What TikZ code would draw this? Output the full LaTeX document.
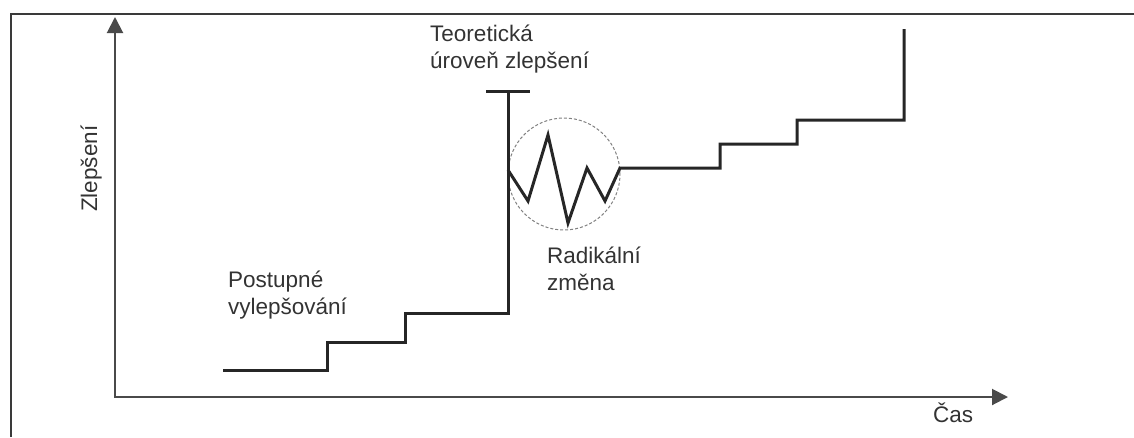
\documentclass[tikz,border=0pt]{standalone}
\usepackage{fontspec}
\setmainfont{Liberation Sans}
\usetikzlibrary{arrows.meta}
\definecolor{txt}{HTML}{333333}
\definecolor{axisgray}{HTML}{4A4A4A}
\definecolor{framegray}{HTML}{3A3A3A}
\begin{document}
\begin{tikzpicture}[x=1pt,y=-1pt,
  lbl/.style={font=\fontsize{22.5}{27}\selectfont, text=txt, inner sep=0pt, align=left, anchor=base west},
  axis/.style={draw=axisgray, line width=2pt, {Triangle[length=16pt,width=16pt]}-{Triangle[length=16pt,width=16pt]}},
  curve/.style={draw=black!85, line width=3pt, line join=miter},
  frameline/.style={draw=framegray, line width=1.8pt},
  ring/.style={circle, draw=gray, densely dashed, line width=1pt, minimum size=112pt, inner sep=0pt}]
\useasboundingbox (0,0) rectangle (1134,437);
% frame
\coordinate (fb) at (11,437);
\coordinate (fc) at (11,14);
\coordinate (fr) at (1134,14);
\draw[frameline] (fb) -- (fc) -- (fr);
% axes
\coordinate (O) at (115,397);
\coordinate (ytip) at (115,17);
\coordinate (xtip) at (1008,397);
\draw[axis] (ytip) -- (O) -- (xtip);
% circle
\node[ring] (ring) at (564,174) {};
% staircase
\coordinate (s0) at (223,370);
\coordinate (s1) at (327,342);
\coordinate (s2) at (405,313);
\coordinate (top) at (508,91);
\draw[curve] (s0) -| (s1) -| (s2) -| (top);
\coordinate (tl) at (486,91);
\coordinate (tr) at (530,91);
\draw[curve] (tl) -- (tr);
% zigzag and upper steps
\coordinate (z0) at (508,170);
\coordinate (z1) at (528,201);
\coordinate (z2) at (548,135);
\coordinate (z3) at (568,223);
\coordinate (z4) at (587,168);
\coordinate (z5) at (605,201);
\coordinate (z6) at (620,168);
\coordinate (u1) at (720,144);
\coordinate (u2) at (797,120);
\coordinate (u3) at (904,29);
\draw[curve] (z0) -- (z1) -- (z2) -- (z3) -- (z4) -- (z5) -- (z6) -| (u1) -| (u2) -| (u3);
% labels (base = baseline of the last line)
\node[lbl] (teor) at (430,68) {Teoretická\\úroveň zlepšení};
\node[lbl] (post) at (228,314) {Postupné\\vylepšování};
\node[lbl] (rad) at (547,290) {Radikální\\změna};
\node[lbl] (cas) at (933,422) {Čas};
\node[lbl, rotate=90] (zlep) at (97,212) {Zlepšení};
\end{tikzpicture}
\end{document}
